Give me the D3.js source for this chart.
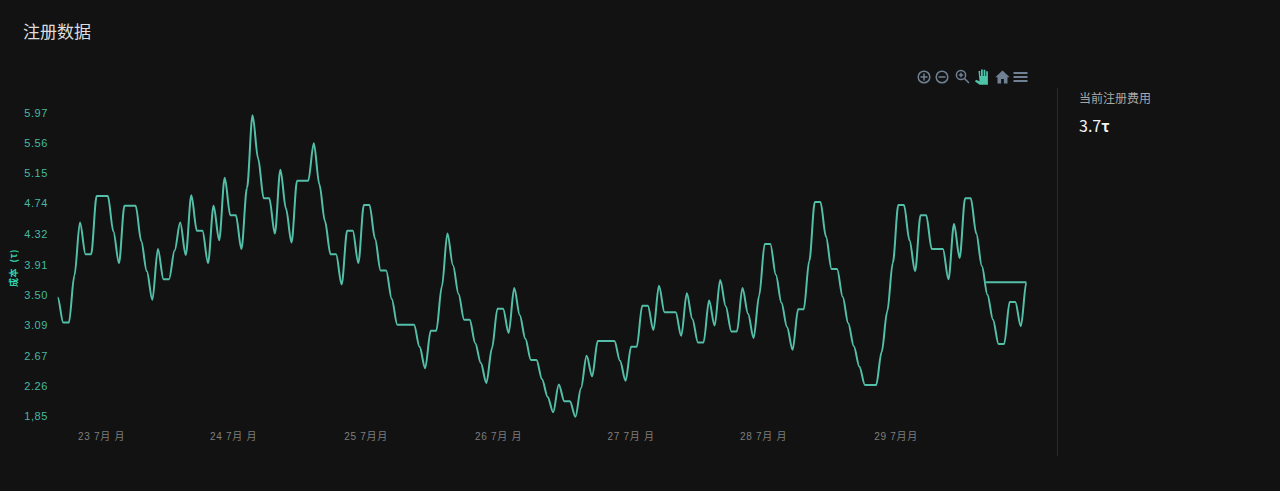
<!DOCTYPE html>
<html><head><meta charset="utf-8">
<script src="https://cdn.jsdelivr.net/npm/d3@7/dist/d3.min.js"></script>
<style>
html,body{margin:0;padding:0;background:#121212;overflow:hidden}
svg{display:block}
</style></head><body>
<svg id="c" width="1280" height="491"></svg>
<script>
const chartTitle = "注册数据";
const sideLabel = "当前注册费用";
const sideValue = "3.7";
const sideUnit = "τ";
const yTitle = "成本  (τ)";
const yTickValues = [5.97,5.56,5.15,4.74,4.32,3.91,3.50,3.09,2.67,2.26,1.85];
const yTickLabels = ["5.97","5.56","5.15","4.74","4.32","3.91","3.50","3.09","2.67","2.26","1,85"];
const xTickHours = [7.8,31.5,55.3,79.1,102.9,126.7,150.5];
const xTickLabels = ["23 7月 月","24 7月 月","25 7月月","26 7月 月","27 7月 月","28 7月 月","29 7月月"];
const hourlyCost = [
3.46,3.12,3.12,3.76,4.48,4.05,4.05,4.84,4.84,4.84,4.36,3.93,4.71,4.71,4.71,4.23,3.82,3.43,4.12,3.71,
3.71,4.10,4.48,4.04,4.85,4.37,4.37,3.93,4.71,4.24,5.09,4.58,4.58,4.12,4.95,5.94,5.35,4.81,4.81,4.33,
5.20,4.67,4.21,5.05,5.05,5.05,5.56,5.00,4.50,4.05,4.05,3.64,4.37,4.37,3.93,4.72,4.72,4.26,3.83,3.83,
3.44,3.09,3.09,3.09,3.09,2.79,2.50,3.01,3.01,3.61,4.33,3.90,3.51,3.16,3.16,2.84,2.57,2.30,2.77,3.31,
3.31,2.98,3.59,3.22,2.90,2.61,2.61,2.35,2.11,1.90,2.28,2.05,2.05,1.84,2.23,2.67,2.39,2.87,2.87,2.87,
2.87,2.60,2.33,2.79,2.79,3.35,3.35,3.02,3.62,3.26,3.26,3.26,2.94,3.52,3.17,2.85,2.85,3.42,3.08,3.70,
3.34,3.00,3.00,3.59,3.24,2.91,3.49,4.19,4.19,3.77,3.39,3.06,2.75,3.30,3.30,3.96,4.76,4.76,4.29,3.85,
3.85,3.47,3.11,2.80,2.52,2.27,2.27,2.27,2.72,3.27,3.93,4.72,4.72,4.24,3.82,4.58,4.58,4.12,4.12,4.12,
3.71,4.46,4.00,4.81,4.81,4.33,3.89,3.50,3.16,2.83,2.83,3.40,3.40,3.07,3.67];
const latestHour = 166.75;
const latestCost = 3.67;

const svg = d3.select("#c");
const x = d3.scaleLinear().domain([0,174]).range([57.7,1026.4]);
const y = d3.scaleLinear().domain([1.85,5.97]).range([416,113]);

function SmoothCurve(ctx){this._c=ctx;}
SmoothCurve.prototype={
  areaStart(){},areaEnd(){},
  lineStart(){this._p=null;},lineEnd(){},
  point(a,b){
    if(!this._p){this._c.moveTo(a,b);}
    else{const d=(a-this._p[0])*0.32;this._c.bezierCurveTo(this._p[0]+d,this._p[1],a-d,b,a,b);}
    this._p=[a,b];
  }
};
const smooth = ctx=>new SmoothCurve(ctx);

const pts = hourlyCost.map((v,i)=>[i,v]).concat([[latestHour,latestCost]]);
const sans = "'Liberation Sans',Arial,sans-serif";
const cjk = "'Noto Sans CJK SC','Noto Sans',sans-serif";

svg.append("text").attr("x",23).attr("y",38).attr("font-family",cjk).attr("font-size",17)
  .attr("fill","#dddddd").text(chartTitle);

svg.append("path").datum(pts)
  .attr("d",d3.line().x(d=>x(d[0])).y(d=>y(d[1])).curve(smooth))
  .attr("fill","none").attr("stroke","#54bfa8").attr("stroke-width",2);

// y axis
const yAxis = d3.axisLeft(y).tickValues(yTickValues).tickSize(0)
  .tickFormat((d,i)=>yTickLabels[i]);
const gy = svg.append("g").attr("transform","translate(51,0)").call(yAxis);
gy.select(".domain").remove();
gy.selectAll("text").attr("font-family",sans).attr("font-size",11).attr("fill","#47b9a0")
  .attr("x",-3).attr("letter-spacing",0.6);

svg.append("text").attr("transform","translate(17,268) rotate(-90)").attr("text-anchor","middle")
  .attr("font-family",cjk).attr("font-size",9).attr("font-weight",700).attr("letter-spacing",0.6)
  .attr("xml:space","preserve").style("white-space","pre").attr("fill","#33d6ae").text(yTitle);

// x axis
const xAxis = d3.axisBottom(x).tickValues(xTickHours).tickSize(0)
  .tickFormat((d,i)=>xTickLabels[i]);
const gx = svg.append("g").attr("transform","translate(0,430)").call(xAxis);
gx.select(".domain").remove();
gx.selectAll("text").attr("font-family",sans+",'Noto Sans CJK SC'").attr("font-size",10).attr("fill","#7f7f7f").attr("letter-spacing",0.7);

// divider and side panel
svg.append("line").attr("x1",1057.5).attr("x2",1057.5).attr("y1",88).attr("y2",456)
  .attr("stroke","#2b2b2b");
svg.append("text").attr("x",1079).attr("y",103).attr("font-family",cjk).attr("font-size",12)
  .attr("fill","#a8a8a8").text(sideLabel);
const sv = svg.append("text").attr("x",1079).attr("y",132).attr("font-family",cjk).attr("font-size",16)
  .attr("fill","#f2f2f2");
sv.append("tspan").text(sideValue);
sv.append("tspan").attr("font-weight",700).attr("font-size",15).text(sideUnit);

// toolbar
const ic="#6f8193", tb=svg.append("g").attr("fill","none").attr("stroke",ic).attr("stroke-width",1.5);
tb.append("circle").attr("cx",924).attr("cy",77).attr("r",5.8);
tb.append("path").attr("d","M920.5 77h7M924 73.5v7");
tb.append("circle").attr("cx",942).attr("cy",77).attr("r",5.8);
tb.append("path").attr("d","M938.5 77h7");
tb.append("circle").attr("cx",961).attr("cy",75).attr("r",4.6);
tb.append("path").attr("d","M964.5 78.5l4.5 4.5M958.8 75h4.4M961 72.8v4.4");
svg.append("path").attr("fill","#4fc3a7")
  .attr("d","M978.5 71h1.7v5h.8v-6.6h1.8v6.6h.8v-6.2h1.8v6.2h.8v-4.8h1.7v13.6h-8.2l-4.7-3.2 1-1.8 3.5 1.4z");
svg.append("path").attr("fill",ic).attr("d","M1002.5 70.5l7.2 6.7h-2.2v6.3h-3.6v-4.4h-2.8v4.4h-3.6v-6.3h-2.2z");
svg.append("path").attr("stroke",ic).attr("stroke-width",1.9).attr("fill","none")
  .attr("d","M1013.5 73h14M1013.5 77h14M1013.5 81h14");
</script>
</body></html>
